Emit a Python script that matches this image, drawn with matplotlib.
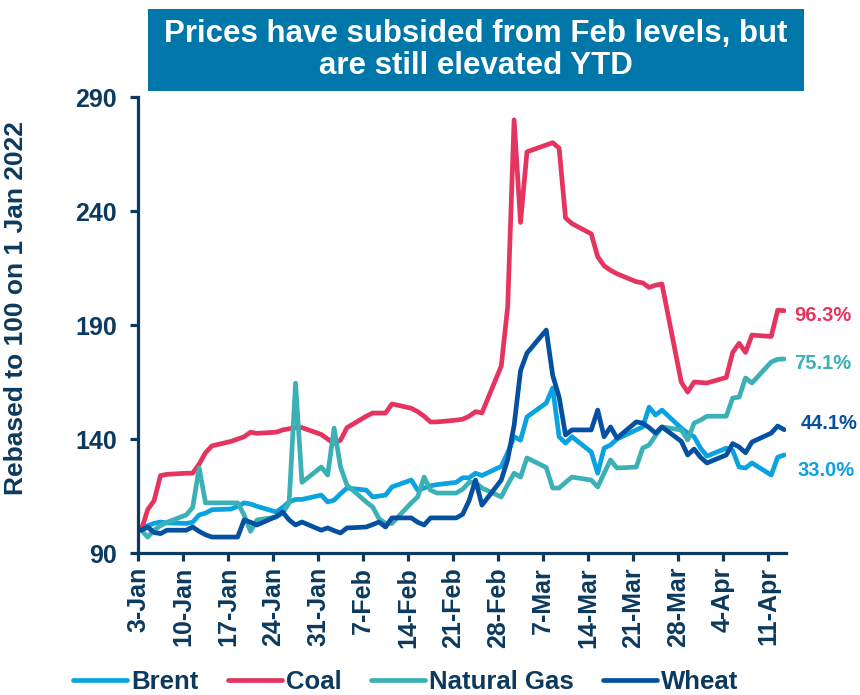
import matplotlib
matplotlib.use("Agg")
import matplotlib.pyplot as plt
import matplotlib.dates as mdates
from matplotlib.patches import Rectangle
from matplotlib.ticker import FuncFormatter
import pandas as pd

# trading days, 3 Jan - 13 Apr 2022
dates = pd.bdate_range("2022-01-03", "2022-04-13")

brent = [100, 102, 103, 103.6, 103.2,
         103, 103.5, 106.7, 107.5, 109,
         109.3, 110.5, 112, 111.5, 110.5,
         108, 110, 112.4, 113.5, 113.5,
         115.4, 112.4, 113.2, 116, 118.5,
         117.6, 114.6, 115, 115.4, 119,
         122, 117.6, 118.5, 119.5, 120,
         121, 123, 123, 125, 124,
         128, 134, 141, 139.5, 149.7,
         155.8, 162.4, 141, 138.2, 141,
         134.3, 125, 136, 137.4, 140,
         144, 145.3, 154, 150.5, 152.7,
         144.8, 142.6, 141, 136, 132.5,
         136, 135, 127.7, 127.3, 129.5,
         124.2, 132, 133]

coal = [100, 109, 113, 124, 124.5,
        125, 125, 129, 134, 137,
        139, 140, 141, 143, 142.5,
        143, 144, 144.5, 145, 145,
        142, 140, 138, 139.5, 145,
        150, 151.4, 151.4, 151.4, 155.4,
        153.5, 152, 150, 147.5, 147.5,
        148.3, 148.7, 150, 152, 151.5,
        172, 198, 280, 235, 266,
        269, 270, 267.6, 237, 234.5,
        230, 220, 216, 214, 212.5,
        209, 208.5, 206.5, 207.5, 208,
        165, 160.6, 165, 164.8, 164.6,
        167, 178, 182, 178, 185.6,
        185, 196.5, 196.3]

natural_gas = [100, 97, 100, 102, 103.5,
               106.7, 110, 127.3, 112, 112,
               112, 112, 106.7, 99.5, 104.5,
               105.8, 107.5, 112, 164.5, 121,
               127.7, 124.2, 144.8, 127.7, 119.8,
               112.4, 110.2, 105, 103, 103,
               112, 114.6, 123.3, 117.6, 116.3,
               116.3, 118, 121, 121, 118.5,
               114.6, 120, 125, 123.3, 131.7,
               127.5, 118.5, 118.5, 121, 123.3,
               122, 119, 125, 130.8, 127.3,
               127.7, 136, 137.4, 141.5, 145.3,
               144, 139.6, 147, 148.3, 150,
               150, 158, 158.4, 166.8, 164.6,
               173.8, 175, 175.1]

wheat = [100, 101.4, 99, 98.5, 100,
         100, 101.4, 99.5, 98, 97,
         97, 97, 104.5, 103.5, 102.3,
         106, 108, 104.5, 102.3, 103.6,
         100, 101, 99.8, 98.8, 101,
         101.4, 102.5, 103.6, 101.4, 105.4,
         105.4, 103.5, 102.3, 105.4, 105.4,
         105.4, 107, 113, 122, 111,
         122, 131, 146, 170, 177.7,
         187.8, 168, 158.4, 141.8, 144,
         144, 152.7, 141, 145.3, 140.4,
         147.5, 147, 145, 142.6, 145.3,
         139, 133, 135.6, 132, 129.5,
         133, 138, 136.5, 134, 138.7,
         142.6, 145.7, 144.1]

names = ["Brent", "Coal", "Natural Gas", "Wheat"]
end_labels = ["33.0%", "96.3%", "75.1%", "44.1%"]
colors = ["#0AA2E0", "#E5345F", "#3BB1B5", "#0550A0"]

navy = "#0C3A5E"
plt.rcParams["font.family"] = ["Liberation Sans", "DejaVu Sans"]
plt.rcParams["font.weight"] = "bold"

fig = plt.figure(figsize=(8.6, 6.95), dpi=100)
ax = fig.add_axes([0.1605, 0.2043, 0.7535, 0.656])

# points sit in the middle of each day, like an Excel date axis
xpos = dates + pd.Timedelta(hours=12)
series = [brent, coal, natural_gas, wheat]
for vals, name, c in zip(series, names, colors):
    ax.plot(xpos, vals, color=c, lw=3.4, label=name,
            solid_capstyle="round", solid_joinstyle="round")

# labels at the right end
label_pos = [(1.017, 126.4), (1.012, 194.4), (1.012, 173.3), (1.022, 147)]
for (xf, yv), txt, c in zip(label_pos, end_labels, colors):
    ax.text(xf, yv, txt, transform=ax.get_yaxis_transform(), color=c,
            fontsize=14.5, fontweight="bold", va="center", ha="left")

start = pd.Timestamp("2022-01-03")
ax.set_xlim(start, start + pd.Timedelta(days=100.8))
ax.set_ylim(90, 290)
ax.set_yticks([90, 140, 190, 240, 290])

ax.xaxis.set_major_locator(mdates.WeekdayLocator(byweekday=mdates.MO))
ax.xaxis.set_major_formatter(FuncFormatter(
    lambda x, pos: f"{mdates.num2date(x).day}-{mdates.num2date(x):%b}"))

for s in ["top", "right"]:
    ax.spines[s].set_visible(False)
for s in ["left", "bottom"]:
    ax.spines[s].set_color(navy)
    ax.spines[s].set_linewidth(2.3)

ax.tick_params(axis="y", length=6, width=2.3, colors=navy, labelsize=18, pad=9)
ax.tick_params(axis="x", length=6, width=2.3, colors=navy, labelsize=18,
               pad=4, labelrotation=90)

ax.set_ylabel("Rebased to 100 on 1 Jan 2022", fontsize=19,
              fontweight="bold", color=navy)
ax.yaxis.set_label_coords(-0.17, 0.537)

fig.legend(loc="center", bbox_to_anchor=(0.472, 0.018), ncol=4,
           frameon=False, fontsize=18.5, handlelength=2.1,
           handletextpad=0.15, columnspacing=1.15, labelcolor=navy)

# title box
fig.add_artist(Rectangle((0.172, 0.869), 0.763, 0.118,
                         transform=fig.transFigure, color="#0077A8", lw=0))
fig.text(0.5535, 0.928, "Prices have subsided from Feb levels, but\nare still elevated YTD",
         ha="center", va="center", color="white", fontsize=22.5,
         fontweight="bold", linespacing=1.1)

fig.savefig("out.png", dpi=100)
